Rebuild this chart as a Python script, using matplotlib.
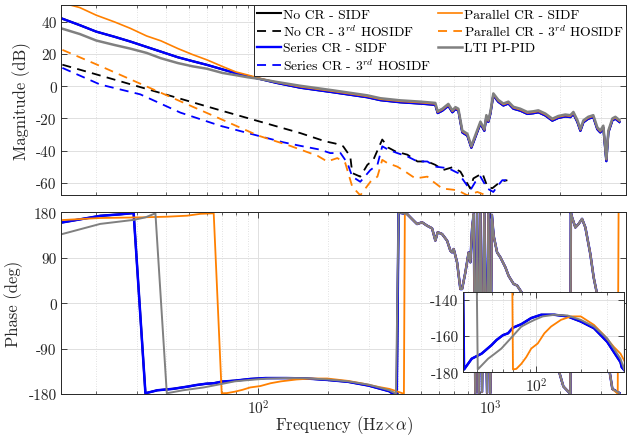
import numpy as np
import matplotlib
matplotlib.use("Agg")
import matplotlib.pyplot as plt
from matplotlib.ticker import LogLocator, NullFormatter

plt.rcParams['font.family'] = ['cmr10', 'DejaVu Serif']
plt.rcParams['mathtext.fontset'] = 'cm'
plt.rcParams['axes.unicode_minus'] = False
plt.rcParams['axes.formatter.use_mathtext'] = False

# ---------------- data ----------------
# SIDF magnitude (dB)
mag_freq = [14, 17, 20, 24, 28, 33, 38, 45, 52, 60, 70, 80, 90, 100,
            120, 152, 210, 295, 336, 409, 499, 579, 593, 621, 659, 686, 707, 728,
            757, 796, 828, 861, 906, 942, 961, 980, 1000, 1030, 1082, 1138, 1196,
            1257, 1346, 1443, 1531, 1610, 1726, 1850, 1963, 2104, 2213, 2280, 2372,
            2444, 2518, 2643, 2778, 2891, 2978, 3068, 3162, 3226, 3358, 3459, 3600]
mag_lti = [36, 32.3, 28.3, 25.5, 23.3, 20.6, 17.3, 14.3, 12.3, 10.8, 8.2, 6.8, 5.5, 4.6,
           2.6, 0.2, -2.6, -5.7, -7.5, -8.8, -9.6, -10.4, -15.5, -14.0, -11.0, -15.0, -13.0, -14.0,
           -27.5, -29.5, -37.0, -30.5, -22.0, -26.5, -18.0, -21.0, -16.0, -4.5, -8.5, -10.8, -9.6,
           -12.8, -14.0, -16.0, -15.6, -15.0, -17.0, -20.2, -18.5, -17.6, -18.0, -16.0, -21.0,
           -26.5, -21.2, -19.0, -18.0, -25.5, -27.5, -24.5, -45.0, -27.5, -20.0, -19.0, -21.0]
mag_series_sidf = [42.3, 37.8, 33.8, 30.6, 27.7, 24.3, 21.4, 17.9, 15.5, 13.2, 10.4, 8.0, 6.2, 4.7,
                   2.0, -1.0, -3.8, -6.9, -8.7, -10.0, -10.8, -11.6, -16.7, -15.2, -12.2, -16.2, -14.2, -15.2,
                   -28.7, -30.7, -38.2, -31.7, -23.2, -27.7, -19.2, -22.2, -17.2, -5.7, -9.7, -12.0, -10.8,
                   -14.0, -15.2, -17.2, -16.8, -16.2, -18.2, -21.4, -19.7, -18.8, -19.2, -17.2, -22.2,
                   -27.7, -22.4, -20.2, -19.2, -26.7, -28.7, -25.7, -46.5, -28.7, -21.2, -20.2, -22.2]
mag_nocr_sidf = mag_series_sidf
mag_parallel_sidf = [52, 48.7, 44.0, 39.8, 35.9, 31.1, 28.1, 23.3, 19.6, 16.3, 12.2, 8.8, 6.9, 5.1,
                     2.4, -0.4, -3.2, -6.3, -8.1, -9.4, -10.2, -11.0, -16.1, -14.6, -11.6, -15.6, -13.6, -14.6,
                     -28.1, -30.1, -37.6, -31.1, -22.6, -27.1, -18.6, -21.6, -16.6, -5.1, -9.1, -11.4, -10.2,
                     -13.4, -14.6, -16.6, -16.2, -15.6, -17.6, -20.8, -19.1, -18.2, -18.6, -16.6, -21.6,
                     -27.1, -21.8, -19.6, -18.6, -26.1, -28.1, -25.1, -45.6, -28.1, -20.6, -19.6, -21.6]

# 3rd HOSIDF magnitude (dB)
nocr_h3_freq = [14.3, 20.8, 31, 46.1, 68.6, 100, 151.6, 194, 215, 232, 249, 254, 275, 295, 313,
                342, 363, 389, 439, 485, 535, 579, 627, 686, 743, 780, 820, 845, 924, 971,
                1020, 1104, 1184]
nocr_h3_mag = [13.3, 6.6, -0.6, -7.8, -15.0, -21.7, -29.1, -34.2, -35.6, -37.3, -43.6, -53.9,
               -56.1, -48.8, -45.7, -33.1, -38.1, -40.4, -42.5, -46.7, -46.7, -48.8, -52.0, -50.3,
               -53.0, -58.3, -63.5, -57.2, -54.0, -62.4, -63.3, -59.3, -58.3]
series_h3_freq = [14.3, 20.8, 31, 46.1, 68.6, 100, 128, 151.6, 185, 204, 226, 242, 254, 275, 304,
                  326, 342, 363, 397, 439, 485, 535, 579, 659, 728, 765, 820, 862, 906, 971, 1030,
                  1082, 1126, 1196]
series_h3_mag = [11.3, 1.0, -5.1, -16.4, -24.6, -30.8, -34.8, -37.0, -39.4, -41.5, -41.5, -47.7,
                 -56.1, -59.3, -52.0, -48.8, -37.3, -39.4, -41.5, -43.6, -46.7, -46.7, -49.9, -50.9,
                 -54.0, -58.3, -64.5, -59.3, -56.1, -63.5, -65.6, -61.4, -58.3, -58.3]
parallel_h3_freq = [14.3, 20.8, 31, 46.1, 68.6, 100, 137, 180, 198, 219, 237, 254, 275, 304, 326,
                    342, 360, 397, 430, 475, 535, 568, 621, 721, 796, 879, 971, 1104]
parallel_h3_mag = [22.5, 12.5, 1.5, -9.4, -20.3, -30.7, -37.0, -43.2, -46.7, -44.6, -47.7, -62.4,
                   -67.7, -59.3, -56.1, -45.7, -47.7, -49.9, -53.0, -57.2, -56.1, -59.3, -63.5,
                   -64.5, -67.7, -65.6, -68.0, -68.0]

# SIDF phase (deg), low-frequency part per controller
series_ph_freq = [14.3, 20.8, 25.4, 29.0, 32.6, 36.7, 42.8, 49.9, 53.9, 59.6, 64.4, 69.5, 79.1,
                  92.2, 107.5, 131.8, 161.7, 198.4, 243.5, 298.7, 366.8, 374, 395]
series_ph = [160, 173, 176, 178.6, -178.5, -172.6, -169.8, -165.1, -162.3, -159.6, -158.6, -155.5,
             -153.6, -150.2, -148.4, -148.4, -149.3, -152.1, -155.8, -163.3, -174.5, -177.3, -179.5]
lti_ph_freq = [14.3, 20.8, 29.0, 32.6, 36.0, 40.3, 42.8, 47.3, 52.5, 58.1, 64.4, 71.3, 79.1, 87.5,
               97, 110, 131.8, 161.7, 198.4, 243.5, 298.7, 366.8, 392]
lti_ph = [137, 157, 165, 170, 178, -178.5, -176.3, -172.6, -169.8, -167, -163, -159, -154.9, -153,
          -151.2, -149.3, -148.4, -148.8, -151.2, -154.9, -161.4, -172.6, -179.3]
parallel_ph_freq = [14.3, 20.8, 31, 40.4, 49.3, 56.3, 64.2, 69.5, 73.2, 79.1, 85.4, 92.2, 102, 113,
                    125.3, 146.1, 170.4, 198.4, 243.5, 284.2, 331.1, 366.8, 400, 424, 428]
parallel_ph = [164.7, 168.7, 170, 171.3, 173.3, 177, 178, -178.5, -178.2, -175.4, -171.7, -167,
               -164.2, -158.6, -154.9, -151.2, -149.3, -149.3, -154, -159.6, -166.1, -169.8,
               -175.5, -179.5, 179.5]
# high-frequency phase, common to all SIDF curves
hf_ph_freq = [402, 437.6, 467.2, 483.1, 507.7, 533.6, 560.7, 579.4, 592.8, 619.3, 650.9, 672.3,
              683.8, 694.8, 718.6, 742.7, 755.3, 780.4, 806.4, 820, 834, 847.2, 861.6, 876.3, 890.4,
              905.5, 920.8, 942, 967.8, 980.4, 1000, 1015, 1033, 1069, 1104, 1161, 1199, 1260, 1304,
              1416, 1563, 1726, 1906, 2064, 2212, 2223, 2250, 2325, 2402, 2485, 2568, 2698, 2788,
              2884, 3070, 3226, 3357, 3600]
hf_ph = [179.5, 176.6, 163.4, 156.8, 160.2, 153.5, 148.3, 124, 140.4, 137, 123.8, 104, 100.7,
         107.3, 81, 28, 28, 61, 100.7, 81, 147, 176.6, -178, 179, -178, 178, -176, 179, -178, 177,
         -178, 175, 133.7, 100.7, 91, 71, 54, 38, 35, 10, -20, -60, -110, -165, -179.5, 179.5, 170,
         150, 157, 167, 150, 97, 51, 18, -40, -120, -170, -178]
parallel_tail_freq = [3540, 3570]
parallel_tail_ph = [-179.5, 179.5]

labels = ["No CR - SIDF", "No CR - $3^{rd}$ HOSIDF", "Series CR - SIDF",
          "Series CR - $3^{rd}$ HOSIDF", "Parallel CR - SIDF",
          "Parallel CR - $3^{rd}$ HOSIDF", "LTI PI-PID"]

C_BLACK = "#000000"
C_BLUE = "#0000ff"
C_ORANGE = "#ff8000"
C_GRAY = "#808080"
AX_COL = "#262626"

series_ph_f = np.concatenate([series_ph_freq, hf_ph_freq])
series_ph_v = np.concatenate([series_ph, hf_ph])
lti_ph_f = np.concatenate([lti_ph_freq, hf_ph_freq])
lti_ph_v = np.concatenate([lti_ph, hf_ph])
par_ph_f = np.concatenate([parallel_ph_freq, hf_ph_freq[1:-1], parallel_tail_freq])
par_ph_v = np.concatenate([parallel_ph, hf_ph[1:-1], parallel_tail_ph])

# ---------------- figure ----------------
fig = plt.figure(figsize=(6.28, 4.39), dpi=100)
ax1 = fig.add_axes([0.0971, 0.5535, 0.900, 0.4317])
ax2 = fig.add_axes([0.0971, 0.1002, 0.900, 0.4139])
axi = fig.add_axes([0.737, 0.150, 0.256, 0.182])

DASH = (5, 3.5)

def style(ax, fs=11):
    ax.set_xscale('log')
    ax.grid(True, which='major', color='#e0e0e0', lw=0.7, ls='-')
    ax.grid(True, which='minor', axis='x', color='#d8d8d8', lw=0.6, ls=(0, (1, 2)))
    ax.set_axisbelow(True)
    ax.tick_params(which='both', direction='in', top=True, right=True, colors=AX_COL,
                   labelsize=fs, labelcolor=AX_COL, pad=3)
    ax.tick_params(which='major', length=4, width=0.6)
    ax.tick_params(which='minor', length=2.2, width=0.5)
    for s in ax.spines.values():
        s.set_color(AX_COL)
        s.set_linewidth(0.7)
    ax.xaxis.set_major_locator(LogLocator(base=10, numticks=10))
    ax.xaxis.set_minor_locator(LogLocator(base=10, subs=np.arange(2, 10), numticks=20))
    ax.xaxis.set_minor_formatter(NullFormatter())

# magnitude
h = []
h += ax1.plot(mag_freq, mag_nocr_sidf, color=C_BLACK, lw=1.5)
h += ax1.plot(nocr_h3_freq, nocr_h3_mag, color=C_BLACK, lw=1.3, dashes=DASH)
h += ax1.plot(mag_freq, mag_series_sidf, color=C_BLUE, lw=1.7)
h += ax1.plot(series_h3_freq, series_h3_mag, color=C_BLUE, lw=1.3, dashes=DASH)
h += ax1.plot(mag_freq, mag_parallel_sidf, color=C_ORANGE, lw=1.2)
h += ax1.plot(parallel_h3_freq, parallel_h3_mag, color=C_ORANGE, lw=1.3, dashes=DASH)
h += ax1.plot(mag_freq, mag_lti, color=C_GRAY, lw=1.8)
style(ax1)
ax1.set_xlim(14.1, 3850)
ax1.set_ylim(-67.5, 50)
ax1.set_yticks([-60, -40, -20, 0, 20, 40])
ax1.tick_params(labelbottom=False)
ax1.set_ylabel("Magnitude (dB)", fontsize=12, color=AX_COL, labelpad=4)
leg = ax1.legend(h, labels, ncol=2, loc='upper right', bbox_to_anchor=(1.0, 1.0),
                 borderaxespad=0.0, fontsize=9.8, handlelength=1.75, handletextpad=0.15,
                 columnspacing=0.5, labelspacing=0.2, borderpad=0.22, fancybox=False,
                 framealpha=1.0, edgecolor=AX_COL)
leg.get_frame().set_linewidth(0.7)

# phase
for ax in (ax2, axi):
    ax.plot(series_ph_f, series_ph_v, color=C_BLACK, lw=1.5)
    ax.plot(series_ph_f, series_ph_v, color=C_BLUE, lw=1.8)
    ax.plot(par_ph_f, par_ph_v, color=C_ORANGE, lw=1.3)
    ax.plot(lti_ph_f, lti_ph_v, color=C_GRAY, lw=1.4)
style(ax2)
ax2.set_xlim(14.1, 3850)
ax2.set_ylim(-180, 180)
ax2.set_yticks([-180, -90, 0, 90, 180])
ax2.set_ylabel("Phase (deg)", fontsize=12, color=AX_COL, labelpad=4)
ax2.set_xlabel(r"Frequency (Hz$\times\alpha$)", fontsize=12, color=AX_COL, labelpad=-2)

style(axi, fs=11)
axi.set_xlim(32, 385)
axi.set_ylim(-180, -136)
axi.set_yticks([-180, -160, -140])
axi.set_facecolor('white')

fig.savefig("out.png", dpi=100)
